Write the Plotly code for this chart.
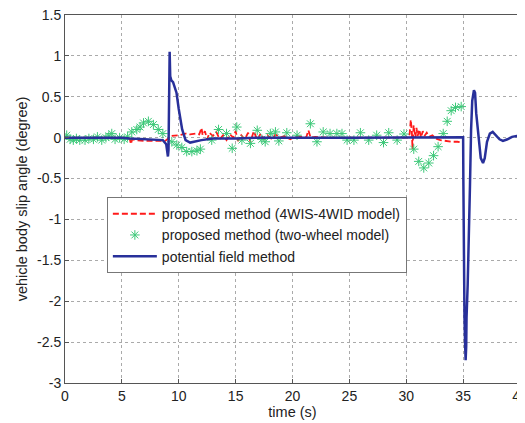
import plotly.graph_objects as go

# ---- data ----
blue_t = [0, 2, 5, 5.7, 8.0, 8.6, 8.9, 9.05, 9.1, 9.15, 9.2, 9.25, 9.35, 9.5, 9.65, 9.8, 10.0, 10.3, 10.6, 11.0,
          12.0, 13.0, 15.0, 17.0, 25.0, 35.0, 35.02, 35.05, 35.08, 35.12, 35.17, 35.22, 35.27, 35.3, 35.4, 35.5,
          35.6, 35.7, 35.8, 35.95, 36.05, 36.15, 36.35, 36.55, 36.75, 36.9, 37.1, 37.35, 37.6, 37.9, 38.2, 38.5,
          38.9, 39.3, 39.7, 40.0]
blue_v = [0.0, 0.0, 0.0, -0.01, -0.02, -0.03, -0.08, -0.23, -0.15, 0.5, 1.05, 0.75, 0.7, 0.68, 0.6, 0.55, 0.35,
          0.1, -0.03, -0.06, -0.03, -0.01, -0.01, 0.0, 0.0, 0.005, -0.5, -1.2, -2.0, -2.2, -2.5, -2.72, -2.55, -2.2,
          -1.8, -1.3, -0.6, 0.1, 0.45, 0.58, 0.55, 0.3, 0.0, -0.25, -0.31, -0.25, -0.05, 0.05, 0.07, 0.03, -0.02,
          -0.04, -0.02, 0.01, 0.02, 0.01]

red_t = [0, 5.5, 5.7, 5.8, 5.9, 6.2, 7.0, 8.0, 8.8, 9.0, 9.3, 10.0, 10.6, 11.0, 11.5, 11.8, 12.0, 12.1, 12.3, 12.5,
         12.7, 13.0, 13.3, 13.6, 13.9, 14.2, 14.5, 14.8, 15.0, 15.2, 15.5, 15.8, 16.1, 16.3, 16.6, 16.9, 17.2, 17.5,
         17.8, 18.2, 18.5, 18.9, 19.3, 19.8, 20.3, 20.8, 21.2, 21.4, 21.6, 22.0, 23.0, 25.0, 27.0, 29.0, 30.2, 30.3,
         30.4, 30.5, 30.55, 30.65, 30.8, 30.9, 31.0, 31.15, 31.3, 31.45, 31.6, 31.8, 32.0, 32.3, 32.6, 33.0, 33.5,
         34.0, 34.5, 34.9]
red_v = [0.0, 0.0, -0.02, -0.08, -0.02, -0.03, -0.04, -0.04, -0.04, -0.02, 0.02, 0.03, 0.05, 0.04, 0.05, 0.04,
         0.12, 0.03, 0.08, -0.02, 0.06, 0.02, 0.07, -0.02, 0.03, -0.03, 0.04, 0.0, 0.08, -0.04, 0.03, -0.02, 0.06,
         -0.05, 0.08, -0.03, 0.05, -0.02, 0.03, -0.02, 0.04, 0.0, 0.02, -0.02, 0.02, 0.01, 0.0, 0.09, 0.0, 0.01,
         0.0, 0.0, 0.0, 0.0, 0.0, 0.05, 0.22, 0.05, -0.14, 0.15, 0.0, 0.12, 0.02, 0.1, 0.0, 0.08, 0.02, 0.06, 0.01,
         0.03, -0.01, -0.03, -0.04, -0.05, -0.05, -0.06]

green_t = [0.15, 0.45, 0.73, 1.0, 1.3, 1.76, 2.1, 2.5, 2.85, 3.23, 3.6, 3.85, 4.11, 4.4, 4.8, 5.2, 5.5, 5.87,
           6.31, 6.6, 6.9, 7.33, 7.77, 8.2, 8.6, 9.39, 9.83, 10.27, 10.7, 11.15, 11.6, 11.9, 12.9, 13.5, 14.2,
           14.7, 15.1, 15.55, 16.3, 16.9, 17.3, 17.6, 18.05, 18.5, 18.8, 19.5, 20.4, 21.57, 22.15, 22.7, 23.3,
           23.9, 24.35, 24.8, 25.4, 25.97, 26.7, 27.4, 28.0, 28.46, 29.2, 29.8, 30.66, 31.1, 31.54, 31.98, 32.4,
           32.8, 33.25, 33.6, 33.95, 34.33, 34.83]
green_v = [0.03, -0.02, -0.03, -0.01, -0.03, -0.03, -0.01, -0.02, 0.01, -0.03, 0.0, 0.02, 0.05, -0.02, 0.0,
           -0.02, 0.01, 0.07, 0.1, 0.13, 0.18, 0.2, 0.16, 0.1, 0.05, -0.05, -0.09, -0.12, -0.17, -0.17, -0.16,
           -0.14, -0.03, 0.1, 0.05, -0.13, 0.13, -0.03, -0.07, 0.09, -0.02, -0.05, 0.05, 0.07, -0.04, 0.06, 0.03,
           0.17, -0.05, 0.07, 0.05, 0.05, 0.05, -0.03, -0.03, 0.06, -0.03, 0.03, -0.06, 0.06, -0.03, 0.045, -0.14,
           -0.29, -0.37, -0.31, -0.22, -0.11, 0.05, 0.2, 0.33, 0.37, 0.38]

x_ticks = [0, 5, 10, 15, 20, 25, 30, 35, 40]
y_ticks = [-3, -2.5, -2, -1.5, -1, -0.5, 0, 0.5, 1, 1.5]
y_labels = ["-3", "-2.5", "-2", "-1.5", "-1", "-0.5", "0", "0.5", "1", "1.5"]

# ---- figure ----
fig = go.Figure()
fig.add_trace(go.Scatter(x=red_t, y=red_v, mode="lines", name="proposed method (4WIS-4WID model)",
                         line=dict(color="#ff1a1a", width=1.8, dash="6px,3px")))
fig.add_trace(go.Scatter(x=green_t, y=green_v, mode="markers", name="proposed method (two-wheel model)",
                         marker=dict(symbol="asterisk-open", size=8, color="#3cc878",
                                     line=dict(color="#3cc878", width=1))))
fig.add_trace(go.Scatter(x=blue_t, y=blue_v, mode="lines", name="potential field method",
                         line=dict(color="#28309a", width=2.5)))

fam = "Liberation Sans, Arial, Helvetica, sans-serif"
tick_font = dict(family=fam, size=14, color="#222")
title_font = dict(family=fam, size=14.5, color="#222")
axis_common = dict(showline=True, linecolor="#555", linewidth=1, mirror=True, ticks="inside", ticklen=4,
                   tickcolor="#555", showgrid=True, gridcolor="#aaaaaa", griddash="dot", gridwidth=1,
                   zeroline=False, tickfont=tick_font, ticklabeloverflow="allow", automargin=False)

fig.update_xaxes(range=[0, 40], tickvals=x_ticks, ticktext=[str(v) for v in x_ticks],
                 title=dict(text="time (s)", font=title_font, standoff=4), **axis_common)
fig.update_yaxes(range=[-3, 1.5], tickvals=y_ticks, ticktext=y_labels,
                 title=dict(text="vehicle body slip angle (degree)", font=title_font, standoff=6), **axis_common)

# page body has an 8px default margin; size the figure so the plot lands where the reference has it
fig.update_layout(
    width=517, height=415,
    margin=dict(l=57, r=5, t=7, b=40),
    paper_bgcolor="white", plot_bgcolor="white",
    font=tick_font,
    showlegend=True,
    legend=dict(x=0.092, y=0.505, xanchor="left", yanchor="top", bgcolor="white",
                bordercolor="#777", borderwidth=1, font=dict(family=fam, size=14, color="#222"),
                itemwidth=44, tracegroupgap=0),
)

fig.write_html("out.html")
